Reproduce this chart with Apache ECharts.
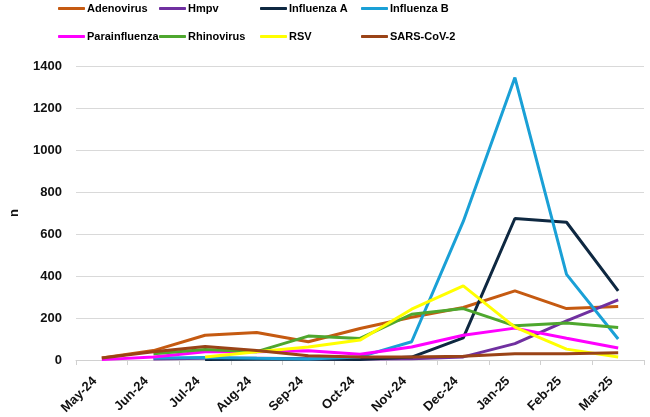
<!DOCTYPE html>
<html>
<head>
<meta charset="utf-8">
<script src="https://cdn.jsdelivr.net/npm/echarts@6/dist/echarts.min.js"></script>
<style>
  html, body { margin: 0; padding: 0; background: #fff; }
  #chart { width: 650px; height: 417px; }
</style>
</head>
<body>
<div id="chart"></div>
<script>
// months on the x axis
var months = ['May-24', 'Jun-24', 'Jul-24', 'Aug-24', 'Sep-24', 'Oct-24', 'Nov-24', 'Dec-24', 'Jan-25', 'Feb-25', 'Mar-25'];

// counts per virus
var adenovirus    = [10, 45, 118, 131, 87, 150, 204, 250, 329, 245, 255];
var hmpv          = [null, 5, 8, 8, 6, 5, 6, 15, 78, 187, 286];
var influenzaA    = [null, null, 3, 4, 4, 3, 14, 106, 674, 656, 329];
var influenzaB    = [null, 10, 12, 8, 5, 15, 87, 660, 1345, 408, 100];
var parainfluenza = [2, 15, 40, 40, 44, 28, 62, 118, 152, 104, 57];
var rhinovirus    = [null, 30, 50, 40, 114, 103, 218, 245, 163, 176, 155];
var rsv           = [null, null, 15, 40, 62, 95, 242, 353, 157, 52, 14];
var sarsCov2      = [10, 40, 64, 45, 20, 15, 14, 18, 30, 30, 35];

var yTicks = [0, 200, 400, 600, 800, 1000, 1200, 1400];

var names  = ['Adenovirus', 'Hmpv', 'Influenza A', 'Influenza B', 'Parainfluenza', 'Rhinovirus', 'RSV', 'SARS-CoV-2'];
var values = [adenovirus, hmpv, influenzaA, influenzaB, parainfluenza, rhinovirus, rsv, sarsCov2];
var colors = ['#C55A11', '#7030A0', '#0E2841', '#1AA0D6', '#FF00FF', '#4EA72E', '#FFFF00', '#9A4317'];

var font = 'Liberation Sans, Arial, sans-serif';

// one legend per item so each sits in its own slot of the 4x2 grid
var legends = names.map(function (n, i) {
    return {
        data: [n],
        left: 58 + (i % 4) * 101,
        top: i < 4 ? 3 : 31,
        icon: 'roundRect',
        itemWidth: 27,
        itemHeight: 3,
        itemGap: 0,
        padding: 0,
        textStyle: { fontFamily: font, fontWeight: 'bold', fontSize: 11, color: '#000', padding: [0, 0, 0, -3] }
    };
});

var option = {
    backgroundColor: '#fff',
    color: colors,
    legend: legends,
    grid: {
        left: 66,
        right: 6,
        top: 66,
        bottom: 56
    },
    xAxis: {
        type: 'category',
        data: months,
        boundaryGap: true,
        axisLine: { lineStyle: { color: '#d0d0d0', width: 1 } },
        axisTick: { show: true, length: 5, lineStyle: { color: '#d0d0d0' } },
        axisLabel: {
            rotate: 45,
            interval: 0,
            margin: 12,
            padding: [0, 10, 0, 0],
            fontFamily: font,
            fontWeight: 'bold',
            fontSize: 13,
            color: '#111'
        },
        splitLine: { show: false }
    },
    yAxis: {
        type: 'value',
        min: yTicks[0],
        max: yTicks[yTicks.length - 1],
        interval: 200,
        name: 'n',
        nameLocation: 'middle',
        nameGap: 55,
        nameTextStyle: { fontFamily: font, fontWeight: 'bold', fontSize: 13, color: '#111' },
        axisLine: { show: false },
        axisTick: { show: false },
        axisLabel: {
            margin: 14,
            formatter: function (v) { return String(v); },
            fontFamily: font,
            fontWeight: 'bold',
            fontSize: 13,
            color: '#111'
        },
        splitLine: { lineStyle: { color: '#d9d9d9', width: 1 } }
    },
    series: names.map(function (n, i) {
        return {
            name: n,
            type: 'line',
            data: values[i],
            showSymbol: false,
            symbol: 'none',
            lineStyle: { width: 3, color: colors[i] },
            itemStyle: { color: colors[i] },
            animation: false
        };
    })
};

var myChart = echarts.init(document.getElementById('chart'));
myChart.setOption(option);
</script>
</body>
</html>
